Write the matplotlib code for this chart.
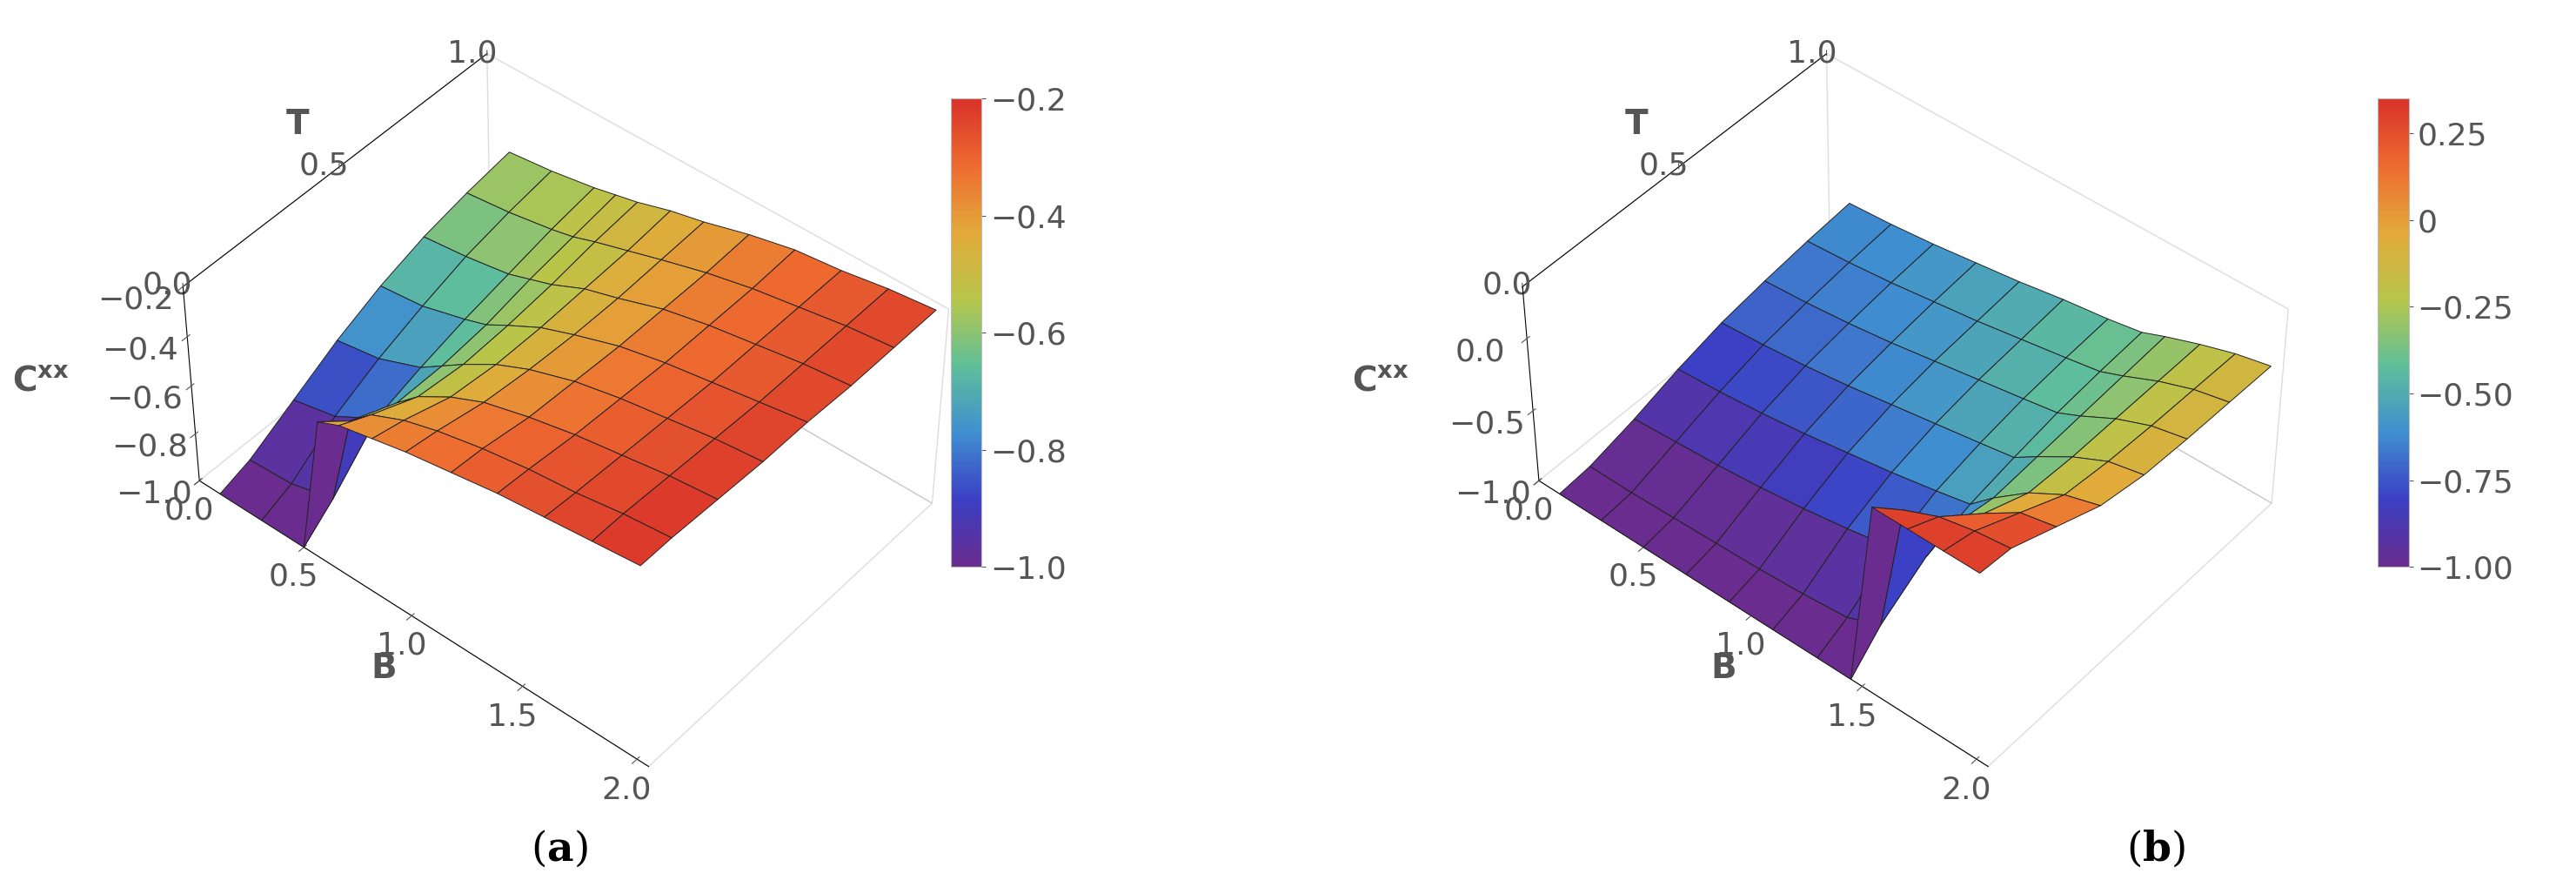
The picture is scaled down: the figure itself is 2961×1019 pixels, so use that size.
import matplotlib
matplotlib.use("Agg")
import matplotlib.pyplot as plt
import numpy as np
from matplotlib.colors import LinearSegmentedColormap, Normalize

plt.rcParams['font.family'] = ['DejaVu Sans']
plt.rcParams['mathtext.fontset'] = 'dejavusans'

# grid values
T_vals = [0.0, 0.1, 0.25, 0.4, 0.55, 0.7, 0.85, 1.0]
B_a = [0.1, 0.3, 0.5, 0.6, 0.7, 0.85, 1.0, 1.2, 1.4, 1.6, 1.8, 2.0]
C_a = [
    [-1.00, -1.00, -1.00, -0.42, -0.38, -0.35, -0.32, -0.29, -0.26, -0.24, -0.22, -0.20],
    [-0.96, -0.95, -0.90, -0.52, -0.44, -0.38, -0.34, -0.30, -0.27, -0.25, -0.22, -0.20],
    [-0.86, -0.82, -0.72, -0.60, -0.52, -0.44, -0.38, -0.33, -0.29, -0.26, -0.23, -0.21],
    [-0.76, -0.73, -0.66, -0.60, -0.54, -0.46, -0.40, -0.34, -0.30, -0.27, -0.24, -0.22],
    [-0.68, -0.66, -0.61, -0.58, -0.53, -0.46, -0.41, -0.35, -0.31, -0.28, -0.25, -0.22],
    [-0.62, -0.60, -0.57, -0.54, -0.51, -0.45, -0.41, -0.35, -0.31, -0.28, -0.25, -0.23],
    [-0.58, -0.56, -0.53, -0.51, -0.48, -0.44, -0.40, -0.35, -0.31, -0.28, -0.25, -0.23],
    [-0.55, -0.53, -0.50, -0.48, -0.46, -0.42, -0.39, -0.34, -0.30, -0.28, -0.25, -0.23],
]
B_b = [0.1, 0.3, 0.5, 0.7, 0.9, 1.1, 1.3, 1.45, 1.55, 1.7, 1.85, 2.0]
C_b = [
    [-1.00, -1.00, -1.00, -1.00, -1.00, -1.00, -1.00, -1.00, 0.30, 0.30, 0.30, 0.30],
    [-0.98, -0.98, -0.97, -0.96, -0.95, -0.93, -0.90, -0.80, 0.10, 0.20, 0.25, 0.28],
    [-0.90, -0.88, -0.86, -0.83, -0.79, -0.74, -0.68, -0.60, -0.30, -0.05, 0.10, 0.15],
    [-0.80, -0.78, -0.75, -0.71, -0.66, -0.61, -0.55, -0.50, -0.36, -0.18, -0.05, 0.02],
    [-0.72, -0.70, -0.67, -0.63, -0.58, -0.53, -0.48, -0.44, -0.34, -0.20, -0.09, -0.04],
    [-0.67, -0.65, -0.62, -0.58, -0.53, -0.48, -0.43, -0.39, -0.32, -0.20, -0.11, -0.06],
    [-0.63, -0.61, -0.58, -0.54, -0.50, -0.45, -0.40, -0.36, -0.30, -0.20, -0.12, -0.07],
    [-0.60, -0.58, -0.55, -0.51, -0.47, -0.42, -0.38, -0.34, -0.28, -0.20, -0.13, -0.08],
]

cmap = LinearSegmentedColormap.from_list(
    "rainbow_m", ["#6a2c8e", "#3b3fc4", "#3f8fd0", "#5fbf9a", "#b8c64a",
                  "#e2a93a", "#ee6b30", "#d8322a"])

fig = plt.figure(figsize=(29.61, 10.19), dpi=100)
gray = "#555555"


def panel(rect, crect, B, C, zlim, zticks, cticks, clabels, label, lx):
    ax = fig.add_axes(rect, projection='3d')
    Bg, Tg = np.meshgrid(B, T_vals)
    Z = np.array(C)
    norm = Normalize(zlim[0], zlim[1])
    ax.plot_surface(Bg, Tg, Z, facecolors=cmap(norm(Z)), edgecolor='#222222',
                    linewidth=0.7, shade=False, antialiased=True)
    ax.set_xlim(0, 2.05)
    ax.set_ylim(0, 1)
    ax.set_zlim(*zlim)
    ax.set_xticks([0.0, 0.5, 1.0, 1.5, 2.0])
    ax.set_yticks([0.0, 0.5, 1.0])
    ax.set_zticks(zticks)
    ax.set_zticklabels([f"{z:.1f}".replace('-', '−') for z in zticks])
    ax.tick_params(labelsize=26, colors=gray, pad=4)
    ax.tick_params(axis='z', pad=14)
    for a in (ax.xaxis, ax.yaxis, ax.zaxis):
        a.pane.fill = False
        a.pane.set_edgecolor('#bbbbbb')
        a._axinfo['grid']['color'] = (1, 1, 1, 0)
    ax.yaxis.set_ticks_position('upper')
    ax.yaxis.set_label_position('upper')
    ax.zaxis.set_ticks_position('lower')
    ax.zaxis.set_label_position('lower')
    ax.set_box_aspect((1.3, 1.0, 0.6), zoom=0.95)
    ax.set_xlabel('B', fontsize=28, color=gray, fontweight='bold', labelpad=18)
    ax.set_ylabel('T', fontsize=28, color=gray, fontweight='bold', labelpad=12)
    ax.zaxis.set_rotate_label(False)
    ax.set_zlabel(r'$\mathbf{C^{xx}}$', fontsize=28, color=gray, labelpad=50, rotation=0)
    ax.view_init(elev=45, azim=-50)
    cax = fig.add_axes(crect)
    sm = plt.cm.ScalarMappable(norm=norm, cmap=cmap)
    cb = fig.colorbar(sm, cax=cax, ticks=cticks)
    cb.ax.set_yticklabels(clabels)
    cb.ax.tick_params(labelsize=26, colors=gray)
    cb.outline.set_edgecolor('#bbbbbb')
    fig.text(lx, 0.03, r'$(\mathbf{' + label + r'})$', fontsize=34, ha='center',
             math_fontfamily='dejavuserif')


panel([0.055, 0.08, 0.32, 0.92], [0.369, 0.361, 0.012, 0.528], B_a, C_a, (-1.0, -0.2),
      [-1.0, -0.8, -0.6, -0.4, -0.2], [-1.0, -0.8, -0.6, -0.4, -0.2],
      ['−1.0', '−0.8', '−0.6', '−0.4', '−0.2'], 'a', 0.217)
panel([0.56, 0.08, 0.35, 0.92], [0.923, 0.361, 0.012, 0.528], B_b, C_b, (-1.0, 0.35),
      [-1.0, -0.5, 0.0], [-1.0, -0.75, -0.5, -0.25, 0.0, 0.25],
      ['−1.00', '−0.75', '−0.50', '−0.25', '0', '0.25'], 'b', 0.837)

fig.savefig("out.png", dpi=100)
